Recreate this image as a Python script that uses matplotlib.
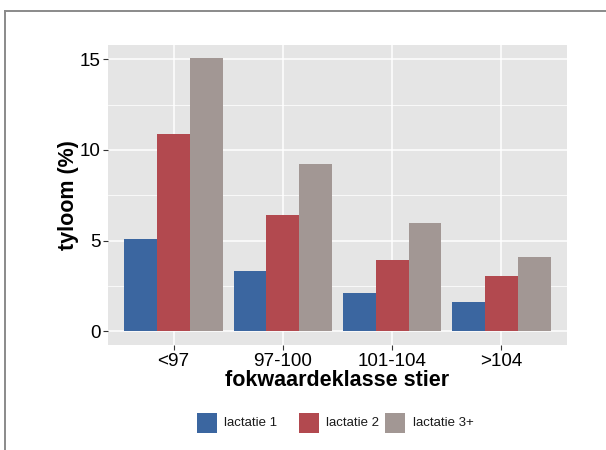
import matplotlib
matplotlib.use("Agg")
import matplotlib.pyplot as plt
import numpy as np
from matplotlib.patches import Rectangle
from matplotlib.lines import Line2D

categories = ["<97", "97-100", "101-104", ">104"]
series_names = ["lactatie 1", "lactatie 2", "lactatie 3+"]
lact1 = [5.1, 3.35, 2.1, 1.6]
lact2 = [10.9, 6.4, 3.95, 3.08]
lact3 = [15.05, 9.2, 5.95, 4.12]
colors = ["#3b66a0", "#b2494f", "#a29794"]
yticks = [0, 5, 10, 15]

plt.rcParams['font.family'] = ['Liberation Sans', 'DejaVu Sans']

W, H = 606, 450
fig = plt.figure(figsize=(W / 100, H / 100), dpi=100)
# outer frame lines (top and left)
fig.add_artist(Line2D([4.5 / W, 1.0], [1 - 10.5 / H] * 2, transform=fig.transFigure, color="#8a8a8a", lw=1.4))
fig.add_artist(Line2D([4.5 / W] * 2, [0, 1 - 10.5 / H], transform=fig.transFigure, color="#8a8a8a", lw=1.4))

ax = fig.add_axes([108 / W, 1 - 345 / H, (567 - 108) / W, (345 - 44.7) / H])
ax.set_facecolor("#e5e5e5")

x = np.arange(1, len(categories) + 1)
w = 0.3
for i, (vals, c) in enumerate(zip([lact1, lact2, lact3], colors)):
    ax.bar(x + (i - 1) * w, vals, width=w, color=c, label=series_names[i], zorder=3)

ax.set_xlim(0.4, 4.6)
ax.set_ylim(-0.75, 15.8)
ax.set_yticks(yticks)
ax.set_yticks([2.5, 7.5, 12.5], minor=True)
ax.set_xticks(x)
ax.set_xticklabels(categories)
ax.grid(True, which="major", color="white", lw=1.1, zorder=1)
ax.grid(True, which="minor", axis="y", color="white", lw=0.55, zorder=1)
for s in ax.spines.values():
    s.set_visible(False)
ax.tick_params(axis="both", which="major", length=3.5, width=0.8, color="#333333",
               labelsize=13.6, labelcolor="black", pad=2)
ax.tick_params(axis="both", which="minor", length=0)

ax.set_xlabel("fokwaardeklasse stier", fontsize=15.5, fontweight="bold", labelpad=0)
ax.set_ylabel("tyloom (%)", fontsize=15.5, fontweight="bold", labelpad=0)

# legend (manual placement to mimic ggplot spacing)
key_x = [197, 299, 385]
text_x = [224, 326, 413]
for kx, tx, c, name in zip(key_x, text_x, colors, series_names):
    fig.add_artist(Rectangle((kx / W, 1 - 433 / H), 20 / W, 20 / H,
                             transform=fig.transFigure, facecolor=c, edgecolor="none"))
    fig.text(tx / W, 1 - 423 / H, name, fontsize=9.5, ha="left", va="center", color="#1a1a1a")

fig.savefig("out.png", dpi=100)
